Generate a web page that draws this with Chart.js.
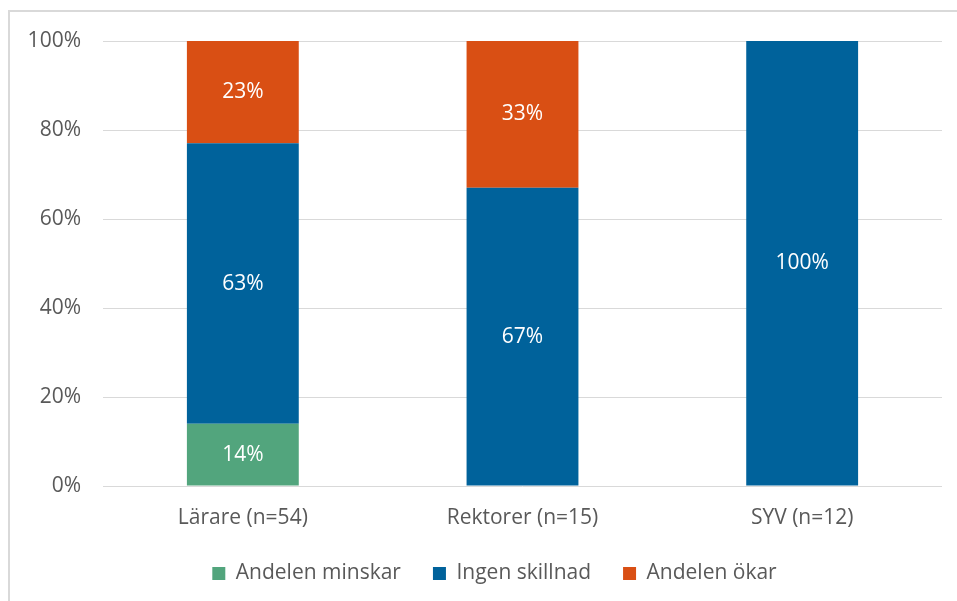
<!DOCTYPE html>
<html>
<head>
<meta charset="utf-8">
<script src="https://cdn.jsdelivr.net/npm/chart.js@4/dist/chart.umd.min.js"></script>
<style>
  html, body { margin: 0; padding: 0; background: #ffffff; }
  #wrap { position: relative; width: 957px; height: 601px; overflow: hidden; }
  #frame { position: absolute; left: 8px; top: 10px; width: 980px; height: 620px;
           border-left: 2px solid #d9d9d9; border-top: 2px solid #d9d9d9; }
  canvas { position: absolute; left: 0; top: 0; }
</style>
</head>
<body>
<div id="wrap">
  <div id="frame"></div>
  <canvas id="c" width="957" height="601"></canvas>
</div>
<script>
const categories = ["Lärare (n=54)", "Rektorer (n=15)", "SYV (n=12)"];
const seriesNames = ["Andelen minskar", "Ingen skillnad", "Andelen ökar"];
const andelenMinskar = [14, 0, 0];
const ingenSkillnad = [63, 67, 100];
const andelenOkar = [23, 33, 0];
const yTicks = [0, 20, 40, 60, 80, 100];
const colors = ["#52a57d", "#00629b", "#d94f14"];

const FONT = "'Open Sans', 'Noto Sans', sans-serif";
const FS = 21;

const valueLabels = {
  id: 'valueLabels',
  afterDatasetsDraw(chart) {
    const ctx = chart.ctx;
    ctx.save();
    ctx.font = FS + "px " + FONT;
    ctx.fillStyle = "#ffffff";
    ctx.textAlign = "center";
    ctx.textBaseline = "middle";
    chart.data.datasets.forEach((ds, di) => {
      const meta = chart.getDatasetMeta(di);
      meta.data.forEach((el, i) => {
        const v = ds.data[i];
        if (!v) return;
        const y = (el.y + el.base) / 2;
        ctx.fillText(v + "%", el.x, y);
      });
    });
    ctx.restore();
  }
};

const legendPlace = {
  id: 'legendPlace',
  afterLayout(chart) {
    const lg = chart.legend;
    if (!lg) return;
    lg.left = 47;
    lg.top -= 3;
    lg.bottom -= 3;
  }
};

new Chart(document.getElementById('c'), {
  type: 'bar',
  data: {
    labels: categories,
    datasets: [
      { label: seriesNames[0], data: andelenMinskar, backgroundColor: colors[0] },
      { label: seriesNames[1], data: ingenSkillnad, backgroundColor: colors[1] },
      { label: seriesNames[2], data: andelenOkar, backgroundColor: colors[2] }
    ]
  },
  options: {
    responsive: false,
    animation: false,
    devicePixelRatio: 1,
    layout: { padding: { top: 41, right: 15, left: 0, bottom: 4 } },
    datasets: { bar: { categoryPercentage: 1.0, barPercentage: 0.4 } },
    scales: {
      x: {
        stacked: true,
        grid: { display: false, drawTicks: false },
        border: { display: false },
        afterFit(scale) { scale.height = 48; },
        ticks: { color: "#595959", font: { family: FONT, size: FS }, padding: 19 }
      },
      y: {
        stacked: true,
        min: 0, max: 100,
        afterBuildTicks(scale) { scale.ticks = yTicks.map(v => ({ value: v })); },
        afterFit(scale) { scale.width = 103; },
        grid: { color: "#d9d9d9", lineWidth: 1, drawTicks: false },
        border: { display: false },
        ticks: { color: "#595959", font: { family: FONT, size: FS }, padding: 22,
                 callback: v => v + "%" }
      }
    },
    plugins: {
      legend: {
        position: 'bottom',
        labels: { color: "#595959", font: { family: FONT, size: FS },
                  boxWidth: 13, boxHeight: 13, padding: 32 }
      },
      tooltip: { enabled: false }
    }
  },
  plugins: [valueLabels, legendPlace]
});
</script>
</body>
</html>
